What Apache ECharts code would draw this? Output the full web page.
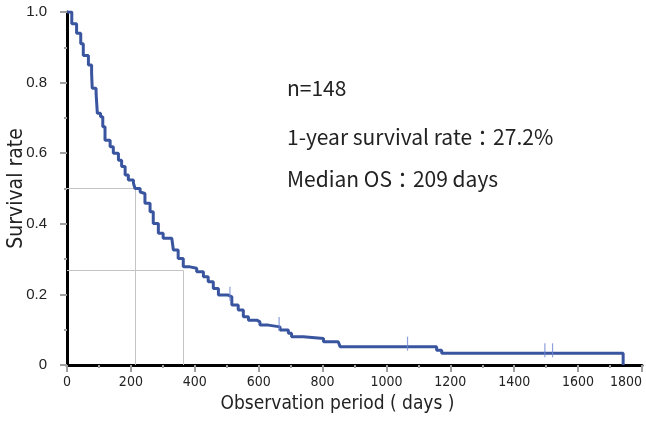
<!DOCTYPE html>
<html>
<head>
<meta charset="utf-8">
<script src="https://cdn.jsdelivr.net/npm/echarts@6/dist/echarts.min.js"></script>
<style>
html, body { margin: 0; padding: 0; background: #fff; }
#main { width: 646px; height: 426px; }
</style>
</head>
<body>
<div id="main"></div>
<script>
var chart = echarts.init(document.getElementById('main'));

// Kaplan-Meier curve (days, survival)
var days = [0, 15, 30, 43, 51, 67, 77, 79, 91, 95, 105, 112, 119, 135, 145, 161, 171, 182, 192, 208,
    213, 229, 234, 244, 260, 270, 286, 301, 328, 333, 348, 364, 385, 406, 427, 442, 458, 474, 505, 516,
    536, 552, 568, 594, 604, 630, 667, 693, 703, 740, 803, 849, 855, 1157, 1173, 1741];
var survival = [1.0, 0.967, 0.94, 0.91, 0.877, 0.85, 0.826, 0.784, 0.77, 0.713, 0.703, 0.675, 0.637, 0.618, 0.6, 0.58, 0.562, 0.538, 0.524, 0.515,
    0.5, 0.49, 0.486, 0.458, 0.434, 0.401, 0.373, 0.359, 0.354, 0.326, 0.302, 0.278, 0.274, 0.264, 0.25, 0.236, 0.217, 0.198, 0.193, 0.17,
    0.156, 0.137, 0.127, 0.122, 0.113, 0.108, 0.099, 0.09, 0.08, 0.075, 0.066, 0.061, 0.052, 0.042, 0.033, 0];

// censored cases
var censorDays = [510, 664, 1066, 1496, 1520];
var censorSurv = [0.193, 0.108, 0.052, 0.033, 0.033];

// guide lines: median and 1-year
var refDays = [215, 365];
var refRates = [0.5, 0.267];

var xTicks = [0, 1800, 200];
var yTicks = [0, 1, 0.2];

var notes = ['n=148', '1-year survival rate：27.2%', 'Median OS：209 days'];
var noteTops = [78, 127, 169];

var blue = '#3a559f';
var tickGray = '#a0a0a0';
var narrow = '"DejaVu Sans Condensed", "Liberation Sans", sans-serif';

var curve = days.map(function (d, i) { return [d, survival[i]]; });
var censors = censorDays.map(function (d, i) { return [d, censorSurv[i]]; });
var guides = [];
refDays.forEach(function (d, i) {
    guides.push([{ coord: [0, refRates[i]] }, { coord: [d, refRates[i]] }]);
    guides.push([{ coord: [d, refRates[i]] }, { coord: [d, 0] }]);
});

var option = {
    backgroundColor: '#fff',
    animation: false,
    grid: { left: 67, right: 4, top: 12, bottom: 61, containLabel: false, outerBoundsMode: 'none' },
    xAxis: {
        type: 'value',
        min: xTicks[0],
        max: xTicks[1],
        interval: xTicks[2],
        name: 'Observation period ( days )',
        nameLocation: 'middle',
        nameMoveOverlap: false,
        nameGap: 30,
        nameTextStyle: { fontFamily: narrow, fontSize: 19, color: '#222', padding: [0, 34, 0, 0] },
        axisLine: { lineStyle: { color: '#000', width: 3 } },
        axisTick: { length: 7, lineStyle: { color: tickGray, width: 2 } },
        minorTick: { show: true, splitNumber: 2, length: 3, lineStyle: { color: tickGray, width: 2 } },
        splitLine: { show: false },
        axisLabel: {
            fontFamily: narrow, fontSize: 14, color: '#222', margin: 10,
            alignMaxLabel: 'right',
            formatter: function (v) { return String(v); }
        }
    },
    yAxis: {
        type: 'value',
        min: yTicks[0],
        max: yTicks[1],
        interval: yTicks[2],
        name: 'Survival rate',
        nameLocation: 'middle',
        nameMoveOverlap: false,
        nameGap: 40,
        nameTextStyle: { fontFamily: narrow, fontSize: 21, color: '#222' },
        axisLine: { show: true, lineStyle: { color: '#000', width: 3 } },
        axisTick: { show: true, length: 7, lineStyle: { color: tickGray, width: 2 } },
        minorTick: { show: true, splitNumber: 2, length: 3, lineStyle: { color: tickGray, width: 2 } },
        splitLine: { show: false },
        axisLabel: {
            fontFamily: 'Liberation Sans', fontSize: 15, color: '#222', margin: 20,
            formatter: function (v) { return v === 0 ? '0' : v.toFixed(1); }
        }
    },
    graphic: notes.map(function (t, i) {
        return {
            type: 'text', left: 287, top: noteTops[i],
            style: { text: t, font: '21px "Noto Sans CJK JP"', fill: '#222' }
        };
    }),
    series: [{
        type: 'line',
        step: 'end',
        data: curve,
        showSymbol: false,
        lineStyle: { color: blue, width: 3 },
        z: 3,
        markLine: {
            silent: true,
            symbol: 'none',
            label: { show: false },
            lineStyle: { color: '#c4c4c4', width: 1, type: 'solid' },
            data: guides,
            z: 1
        }
    }, {
        type: 'scatter',
        data: censors,
        symbol: 'rect',
        symbolSize: [1.2, 14],
        symbolOffset: [0, -3],
        itemStyle: { color: '#7088d4' },
        z: 4
    }]
};

chart.setOption(option);
</script>
</body>
</html>
